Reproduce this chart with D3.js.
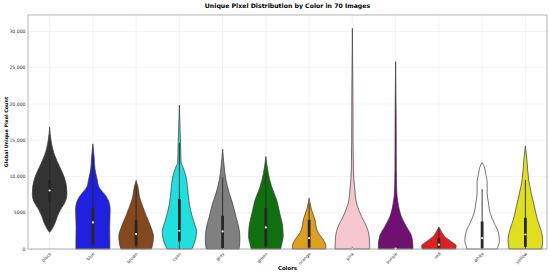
<!DOCTYPE html>
<html>
<head>
<meta charset="utf-8">
<script src="https://cdn.jsdelivr.net/npm/d3@7"></script>
<style>
  body { margin: 0; background: #fff; }
  svg { display: block; font-family: "DejaVu Sans", sans-serif; }
</style>
</head>
<body>
<svg id="chart" width="550" height="273"></svg>
<script>
// Categories and their fills (seaborn-style desaturated)
var colorNames = ["black", "blue", "brown", "cyan", "gray", "green", "orange", "pink", "purple", "red", "white", "yellow"];
var fillColors = ["#333333", "#2020df", "#83481e", "#20dfdf", "#808080", "#107010", "#dfa020", "#f7c7d0", "#701070", "#df2020", "#ffffff", "#dfdf20"];

// Violin outlines: [pixel count, relative half-width]
var violinBlack  = [[2290, 0], [2800, 0.15], [3500, 0.3], [4500, 0.45], [5500, 0.65], [6500, 0.9], [7500, 1.0], [8500, 0.98], [10000, 0.83], [11500, 0.55], [13000, 0.28], [15000, 0.08], [16800, 0]];
var violinBlue   = [[0, 0.98], [870, 0.98], [3000, 0.97], [5400, 1.0], [6330, 0.95], [7240, 0.77], [8600, 0.34], [9540, 0.25], [10900, 0.13], [12750, 0.07], [14500, 0]];
var violinBrown  = [[0, 0.88], [590, 0.95], [1730, 1.0], [3110, 0.84], [4490, 0.6], [5870, 0.38], [7240, 0.19], [7900, 0.15], [8620, 0.1], [9450, 0]];
var violinCyan   = [[0, 0.72], [1280, 0.93], [2430, 0.99], [3580, 0.86], [4960, 0.69], [6330, 0.57], [8170, 0.48], [10000, 0.38], [11370, 0.19], [11840, 0.1], [13670, 0.08], [15970, 0.05], [19870, 0]];
var violinGray   = [[0, 0.95], [1280, 1.0], [2660, 0.96], [4490, 0.77], [6330, 0.57], [7710, 0.38], [9540, 0.19], [11370, 0.09], [13770, 0]];
var violinGreen  = [[0, 0.85], [360, 0.88], [1730, 1.0], [3110, 0.97], [4960, 0.8], [6790, 0.62], [8620, 0.33], [10460, 0.14], [12750, 0]];
var violinOrange = [[0, 0.97], [360, 0.97], [1280, 0.82], [2200, 0.53], [3110, 0.4], [4030, 0.34], [5410, 0.14], [7020, 0]];
var violinPink   = [[0, 1.0], [360, 1.0], [1730, 0.97], [3110, 0.82], [4490, 0.53], [6330, 0.24], [8170, 0.14], [10920, 0.06], [15000, 0.04], [22000, 0.03], [30430, 0]];
var violinPurple = [[0, 1.0], [360, 1.0], [1730, 0.93], [3110, 0.62], [4490, 0.33], [6330, 0.14], [8170, 0.06], [10920, 0.04], [18000, 0.03], [25830, 0]];
var violinRed    = [[0, 0.97], [450, 1.0], [1050, 0.7], [1730, 0.33], [2430, 0.14], [3030, 0]];
var violinWhite  = [[0, 0.9], [140, 0.9], [1050, 1.0], [2200, 0.95], [3580, 0.7], [4960, 0.46], [6330, 0.37], [7710, 0.29], [9090, 0.29], [10460, 0.2], [11370, 0.12], [11930, 0]];
var violinYellow = [[0, 0.95], [1280, 1.0], [2660, 0.89], [4030, 0.7], [5870, 0.52], [7710, 0.34], [9540, 0.19], [12300, 0.09], [14220, 0]];
var violins = [violinBlack, violinBlue, violinBrown, violinCyan, violinGray, violinGreen, violinOrange, violinPink, violinPurple, violinRed, violinWhite, violinYellow];

// Inner box stats
var whiskerLow  = [3000, 0, 0, 0, 0, 0, 0, 0, 0, 0, 0, 0];
var quartile1   = [6600, 600, 450, 1050, 140, 360, 200, 0, 0, 100, 100, 300];
var medians     = [8070, 3660, 2060, 2520, 2430, 2980, 1500, 50, 50, 600, 1500, 2000];
var quartile3   = [9500, 5700, 4030, 6880, 4580, 5640, 4030, 150, 150, 1510, 3800, 4300];
var whiskerHigh = [13500, 12500, 8850, 14600, 9910, 10500, 6330, 300, 300, 2800, 8260, 9540];

var yTicks = [0, 5000, 10000, 15000, 20000, 25000, 30000];
var yTickLabels = ["0", "5000", "10,000", "15,000", "20,000", "25,000", "30,000"];

var svg = d3.select("#chart"),
    margin = { left: 28, right: 3, top: 15, bottom: 24 },
    width = 550 - margin.left - margin.right,
    height = 273 - margin.top - margin.bottom;

var x = d3.scaleBand().domain(colorNames).range([margin.left, margin.left + width]);
var y = d3.scaleLinear().domain([0, 32270]).range([margin.top + height, margin.top]);
var halfWidth = x.bandwidth() * 0.8 / 2;

// Grid
var grid = svg.append("g");
grid.selectAll("line.h").data(yTicks).enter().append("line")
    .attr("x1", margin.left).attr("x2", margin.left + width)
    .attr("y1", function (d) { return y(d); }).attr("y2", function (d) { return y(d); })
    .style("stroke", "#ebebeb").style("stroke-width", 0.6);
grid.selectAll("line.v").data(colorNames).enter().append("line")
    .attr("x1", function (d) { return x(d) + x.bandwidth() / 2; })
    .attr("x2", function (d) { return x(d) + x.bandwidth() / 2; })
    .attr("y1", margin.top).attr("y2", margin.top + height)
    .style("stroke", "#ebebeb").style("stroke-width", 0.6);

// Violins
colorNames.forEach(function (name, i) {
    var cx = x(name) + x.bandwidth() / 2;
    var area = d3.area()
        .curve(d3.curveMonotoneY)
        .y(function (d) { return y(d[0]); })
        .x0(function (d) { return cx - d[1] * halfWidth; })
        .x1(function (d) { return cx + d[1] * halfWidth; });
    svg.append("path")
        .datum(violins[i])
        .attr("d", area)
        .style("fill", fillColors[i])
        .style("stroke", "#3a3a3a")
        .style("stroke-width", 0.7);

    // Whisker, box and median
    svg.append("line")
        .attr("x1", cx).attr("x2", cx)
        .attr("y1", y(whiskerLow[i])).attr("y2", y(whiskerHigh[i]))
        .style("stroke", "#262626").style("stroke-width", 0.9);
    svg.append("line")
        .attr("x1", cx).attr("x2", cx)
        .attr("y1", y(quartile1[i])).attr("y2", y(quartile3[i]))
        .style("stroke", "#262626").style("stroke-width", 2.8);
    svg.append("circle")
        .attr("cx", cx).attr("cy", y(medians[i])).attr("r", 1.1)
        .style("fill", "#ffffff");
});

// Frame
svg.append("rect")
    .attr("x", margin.left).attr("y", margin.top)
    .attr("width", width).attr("height", height)
    .style("fill", "none").style("stroke", "#a0a0a0").style("stroke-width", 0.8);

// Y tick labels
svg.selectAll("text.ytick").data(yTicks).enter().append("text")
    .attr("x", margin.left - 2.5)
    .attr("y", function (d) { return y(d); })
    .attr("dy", "0.35em")
    .attr("text-anchor", "end")
    .style("font-size", "4.6px").style("fill", "#333")
    .text(function (d, i) { return yTickLabels[i]; });

// X tick labels (rotated)
svg.selectAll("text.xtick").data(colorNames).enter().append("text")
    .attr("transform", function (d) {
        return "translate(" + (x(d) + x.bandwidth() / 2 + 1) + "," + (margin.top + height + 4) + ") rotate(-45)";
    })
    .attr("text-anchor", "end")
    .attr("dy", "0.35em")
    .style("font-size", "4.4px").style("fill", "#333")
    .text(function (d) { return d; });

// Titles
svg.append("text")
    .attr("x", margin.left + width / 2).attr("y", 8)
    .attr("text-anchor", "middle")
    .style("font-size", "6.2px").style("font-weight", "bold")
    .text("Unique Pixel Distribution by Color in 70 Images");
svg.append("text")
    .attr("x", margin.left + width / 2).attr("y", 270)
    .attr("text-anchor", "middle")
    .style("font-size", "5.4px").style("font-weight", "bold")
    .text("Colors");
svg.append("text")
    .attr("transform", "translate(8," + (margin.top + height / 2) + ") rotate(-90)")
    .attr("text-anchor", "middle")
    .style("font-size", "4.8px").style("font-weight", "bold")
    .text("Global Unique Pixel Count");
</script>
</body>
</html>
